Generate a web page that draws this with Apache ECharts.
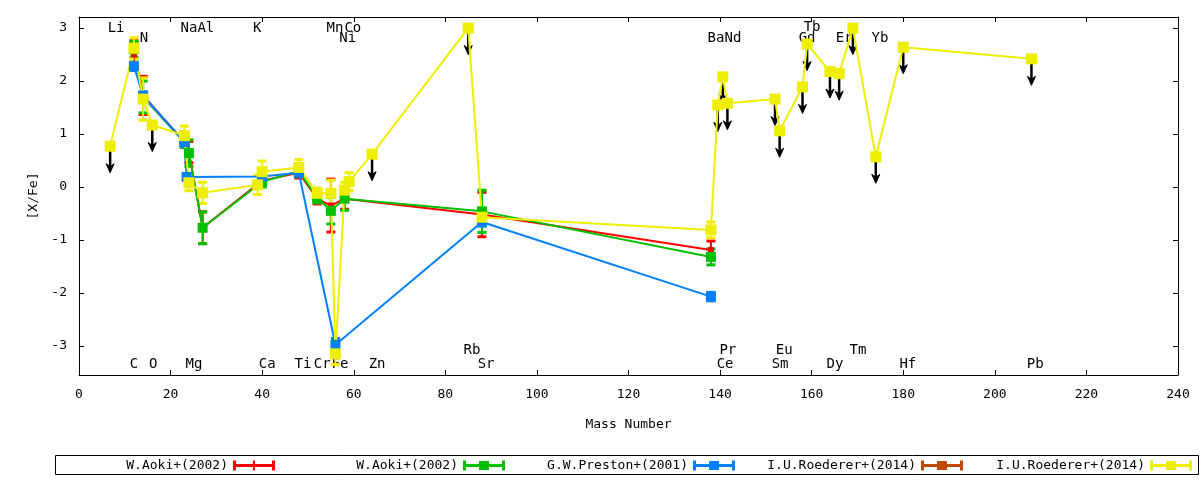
<!DOCTYPE html>
<html>
<head>
<meta charset="UTF-8" />
<title>[X/Fe] vs Mass Number</title>
<script src="https://cdn.jsdelivr.net/npm/echarts@6/dist/echarts.min.js"></script>
<style>
  html, body { margin: 0; padding: 0; background: #fff; }
  #main { width: 1200px; height: 480px; }
</style>
</head>
<body>
<div id="main"></div>
<script>
var FONT = 'DejaVu Sans Mono';

/* W.Aoki+(2002), first set (red) */
var aokiMass   = [12, 14, 23, 24, 27, 40, 48, 52, 55, 58, 88, 138];
var aokiRedVal = [2.5, 1.73, 0.85, 0.66, -0.77, 0.12, 0.27, -0.22, -0.35, -0.22, -0.52, -1.19];
var aokiRedErr = [0.26, 0.36, 0.1, 0.2, 0.3, 0.1, 0.1, 0.1, 0.5, 0.2, 0.42, 0.17];

/* W.Aoki+(2002), second set (green) */
var aokiGreenVal = [2.6, 1.7, 0.85, 0.64, -0.77, 0.1, 0.3, -0.2, -0.45, -0.22, -0.46, -1.32];
var aokiGreenErr = [0.15, 0.3, 0.1, 0.25, 0.3, 0.1, 0.1, 0.1, 0.25, 0.22, 0.4, 0.15];

/* G.W.Preston+(2001) (blue) */
var prestonMass = [12, 14, 23, 23.5, 40, 48, 56, 88, 138];
var prestonVal  = [2.28, 1.72, 0.85, 0.19, 0.2, 0.27, -2.98, -0.66, -2.07];
var prestonErr  = [0.08, 0.08, 0.08, 0.06, 0.06, 0.06, 0.12, 0.08, 0.08];

/* I.U.Roederer+(2014), first set (orange) - hidden under the second set */
var roedererAMass = [];
var roedererAVal  = [];

/* I.U.Roederer+(2014), second set (yellow); limit = 1 means upper limit */
var roedererMass  = [6.8, 12, 14, 16, 23, 24, 27, 39, 40, 48, 52, 55, 56, 58, 59, 64, 85, 88,
                     138, 139.5, 140.6, 141.6, 152, 153, 158, 159, 164, 166, 169, 174, 180, 208];
var roedererVal   = [0.77, 2.62, 1.66, 1.17, 0.97, 0.08, -0.11, 0.04, 0.29, 0.37, -0.12, -0.12, -3.15, -0.06, 0.1, 0.62, 3.0, -0.57,
                     -0.81, 1.55, 2.08, 1.58, 1.66, 1.06, 1.89, 2.7, 2.18, 2.14, 3.0, 0.57, 2.64, 2.42];
var roedererErr   = [0, 0.2, 0.4, 0, 0.18, 0.15, 0.2, 0.18, 0.2, 0.15, 0.1, 0.25, 0.2, 0.15, 0.17, 0, 0, 0.15,
                     0.15, 0, 0, 0, 0, 0, 0, 0, 0, 0, 0, 0, 0, 0];
var roedererLimit = [1, 0, 0, 1, 0, 0, 0, 0, 0, 0, 0, 0, 0, 0, 0, 1, 1, 0,
                     0, 1, 1, 1, 1, 1, 1, 1, 1, 1, 1, 1, 1, 1];

/* element names written on the plot */
var elemNames = ['Li', 'N', 'Na', 'Al', 'K', 'Mn', 'Co', 'Ni', 'Ba', 'Nd', 'Gd', 'Tb', 'Er', 'Yb',
                 'Rb', 'Pr', 'Eu', 'Tm',
                 'C', 'O', 'Mg', 'Ca', 'Ti', 'Cr', 'Fe', 'Zn', 'Sr', 'Ce', 'Sm', 'Dy', 'Hf', 'Pb'];
var elemX     = [8.1, 14.2, 24.0, 27.7, 38.9, 55.9, 59.8, 58.7, 139.1, 142.8, 159.0, 160.1, 167.1, 174.9,
                 85.8, 141.7, 154.0, 170.1,
                 12.0, 16.2, 25.1, 41.1, 48.9, 53.1, 57.0, 65.1, 88.9, 141.1, 153.1, 165.1, 181.0, 208.8];
var elemY     = [3.0, 2.81, 3.0, 3.0, 3.0, 3.0, 3.0, 2.81, 2.81, 2.81, 2.81, 3.02, 2.81, 2.81,
                 -3.08, -3.08, -3.08, -3.08,
                 -3.34, -3.34, -3.34, -3.34, -3.34, -3.34, -3.34, -3.34, -3.34, -3.34, -3.34, -3.34, -3.34, -3.34];

var yTicks = [-3, -2, -1, 0, 1, 2, 3];

var RED = '#ff0000', GREEN = '#00c000', BLUE = '#0080ff', ORANGE = '#c04a00', YELLOW = '#eeee00';

function pairs(xs, ys) {
    return xs.map(function (x, i) { return [x, ys[i]]; });
}
function triples(xs, ys, es) {
    var out = [];
    xs.forEach(function (x, i) { if (es[i] > 0) out.push([x, ys[i], es[i]]); });
    return out;
}

function errRenderer(color) {
    return function (params, api) {
        var x = api.value(0), y = api.value(1), e = api.value(2);
        var top = api.coord([x, y + e]), bot = api.coord([x, y - e]);
        var hw = 4.5;
        return {
            type: 'group',
            children: [
                { type: 'line', shape: { x1: top[0], y1: top[1], x2: bot[0], y2: bot[1] }, style: { stroke: color, lineWidth: 2 } },
                { type: 'line', shape: { x1: top[0] - hw, y1: top[1], x2: top[0] + hw, y2: top[1] }, style: { stroke: color, lineWidth: 3 } },
                { type: 'line', shape: { x1: bot[0] - hw, y1: bot[1], x2: bot[0] + hw, y2: bot[1] }, style: { stroke: color, lineWidth: 3 } }
            ]
        };
    };
}

// upper limit: black arrow 0.5 dex long pointing down
function arrowRenderer(params, api) {
    var x = api.value(0), y = api.value(1);
    var p0 = api.coord([x, y]), p1 = api.coord([x, y - 0.5]);
    return {
        type: 'group',
        children: [
            { type: 'line', shape: { x1: p0[0], y1: p0[1], x2: p1[0], y2: p1[1] - 5 }, style: { stroke: '#000', lineWidth: 2.5 } },
            { type: 'polygon', shape: { points: [[p1[0], p1[1]], [p1[0] - 4, p1[1] - 9], [p1[0], p1[1] - 6], [p1[0] + 4, p1[1] - 9]] },
              style: { fill: '#000', stroke: '#000', lineWidth: 1 } }
        ]
    };
}

function labelRenderer(params, api) {
    var p = api.coord([api.value(0), api.value(1)]);
    return {
        type: 'text', x: p[0], y: p[1],
        style: { text: elemNames[params.dataIndex], fill: '#000', fontSize: 14, fontFamily: FONT,
                 align: 'center', verticalAlign: 'middle' }
    };
}

var limitPts = [];
roedererMass.forEach(function (m, i) { if (roedererLimit[i]) limitPts.push([m, roedererVal[i]]); });

var ICON_SQ = 'path://M0,4.5H42V7.5H0Z M0,1H3V11H0Z M39,1H42V11H39Z M16,1.5H26V10.5H16Z';
var ICON_TICK = 'path://M0,4.5H42V7.5H0Z M0,1H3V11H0Z M39,1H42V11H39Z M20,1H22V11H20Z';

function lineSeries(name, data, color, size) {
    return {
        name: name, type: 'line', data: data,
        symbol: 'rect', symbolSize: size, showSymbol: true,
        itemStyle: { color: color }, lineStyle: { color: color, width: 2 },
        emphasis: { disabled: true }, silent: true, animation: false
    };
}
function errSeries(data, color) {
    return { type: 'custom', renderItem: errRenderer(color), data: data, silent: true, animation: false };
}

/* series names must differ for the legend, the trailing space is trimmed in the formatter */
var names = ['W.Aoki+(2002)', 'W.Aoki+(2002) ', 'G.W.Preston+(2001)', 'I.U.Roederer+(2014)', 'I.U.Roederer+(2014) '];
var legendIcons = [ICON_TICK, ICON_SQ, ICON_SQ, ICON_SQ, ICON_SQ];
var legendRight = [925, 695, 465, 237, 8];

var legends = names.map(function (n, i) {
    return {
        data: [{ name: n, icon: legendIcons[i] }],
        right: legendRight[i], top: 459, padding: 0,
        align: 'right', itemWidth: 42, itemHeight: 12,
        selectedMode: false,
        formatter: function (s) { return s.trim(); },
        textStyle: { color: '#000', fontFamily: FONT, fontSize: 13 }
    };
});

var axisText = { color: '#000', fontFamily: FONT, fontSize: 13 };

var option = {
    backgroundColor: '#fff',
    animation: false,
    grid: { left: 79, right: 22, top: 17, bottom: 105 },
    legend: legends,
    graphic: [{
        type: 'rect', shape: { x: 55.5, y: 455.5, width: 1143, height: 19 },
        style: { fill: 'none', stroke: '#000', lineWidth: 1 }, silent: true
    }],
    xAxis: [{
        type: 'value', min: 0, max: 240, interval: 20, position: 'bottom',
        name: 'Mass Number', nameLocation: 'middle', nameGap: 43, nameTextStyle: axisText,
        axisLine: { onZero: false, lineStyle: { color: '#000', width: 1 } },
        axisTick: { inside: true, length: 5, lineStyle: { color: '#000' } },
        axisLabel: Object.assign({ margin: 13 }, axisText),
        splitLine: { show: false }
    }, {
        type: 'value', min: 0, max: 240, interval: 20, position: 'top',
        axisLine: { onZero: false, lineStyle: { color: '#000', width: 1 } },
        axisTick: { inside: true, length: 5, lineStyle: { color: '#000' } },
        axisLabel: { show: false }, splitLine: { show: false }
    }],
    yAxis: [{
        type: 'value', min: -3.55, max: 3.21, position: 'left',
        name: '[X/Fe]', nameLocation: 'middle', nameGap: 39, nameRotate: 90, nameTextStyle: axisText,
        axisLine: { onZero: false, lineStyle: { color: '#000', width: 1 } },
        axisTick: { inside: true, length: 5, customValues: yTicks, lineStyle: { color: '#000' } },
        axisLabel: Object.assign({ margin: 12, customValues: yTicks }, axisText),
        splitLine: { show: false }
    }, {
        type: 'value', min: -3.55, max: 3.21, position: 'right',
        axisLine: { onZero: false, lineStyle: { color: '#000', width: 1 } },
        axisTick: { inside: true, length: 5, customValues: yTicks, lineStyle: { color: '#000' } },
        axisLabel: { show: false }, splitLine: { show: false }
    }],
    series: [
        { type: 'custom', renderItem: labelRenderer, data: pairs(elemX, elemY), silent: true, animation: false },
        lineSeries(names[0], pairs(aokiMass, aokiRedVal), RED, 6),
        errSeries(triples(aokiMass, aokiRedVal, aokiRedErr), RED),
        lineSeries(names[1], pairs(aokiMass, aokiGreenVal), GREEN, 10),
        errSeries(triples(aokiMass, aokiGreenVal, aokiGreenErr), GREEN),
        lineSeries(names[2], pairs(prestonMass, prestonVal), BLUE, 10),
        errSeries(triples(prestonMass, prestonVal, prestonErr), BLUE),
        lineSeries(names[3], pairs(roedererAMass, roedererAVal), ORANGE, 10),
        { type: 'custom', renderItem: arrowRenderer, data: limitPts, silent: true, animation: false },
        lineSeries(names[4], pairs(roedererMass, roedererVal), YELLOW, 11),
        errSeries(triples(roedererMass, roedererVal, roedererErr), YELLOW)
    ]
};

var chart = echarts.init(document.getElementById('main'));
chart.setOption(option);
</script>
</body>
</html>
